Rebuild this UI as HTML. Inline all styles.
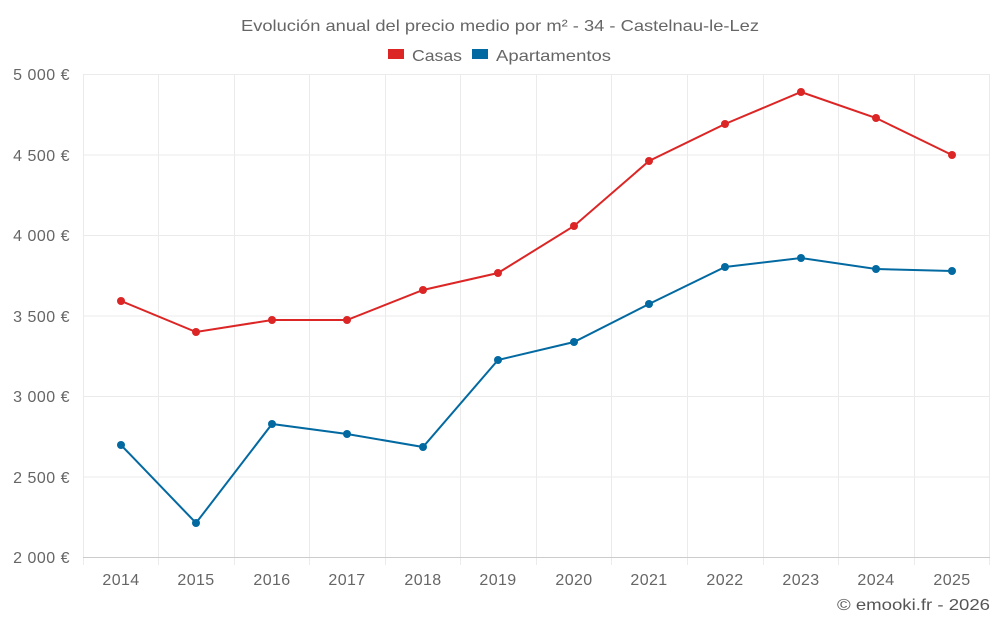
<!DOCTYPE html>
<html><head><meta charset="utf-8"><style>
body{margin:0;background:#fff;}
svg{display:block;font-family:"Liberation Sans",sans-serif;}
</style></head><body>
<svg width="1000" height="625" viewBox="0 0 1000 625">
<text x="241" y="31" textLength="518" lengthAdjust="spacingAndGlyphs" font-size="16" fill="#666">Evolución anual del precio medio por m² - 34 - Castelnau-le-Lez</text>
<rect x="388" y="49" width="16" height="10" fill="#dc2626"/>
<text x="412" y="61" textLength="50" lengthAdjust="spacingAndGlyphs" font-size="16" fill="#666">Casas</text>
<rect x="472" y="49" width="16" height="10" fill="#0369a1"/>
<text x="496" y="61" textLength="115" lengthAdjust="spacingAndGlyphs" font-size="16" fill="#666">Apartamentos</text>
<g stroke="#ebebeb" stroke-width="1">
<line x1="83" y1="74.5" x2="990" y2="74.5"/>
<line x1="83" y1="155" x2="990" y2="155"/>
<line x1="83" y1="235.5" x2="990" y2="235.5"/>
<line x1="83" y1="316" x2="990" y2="316"/>
<line x1="83" y1="396.5" x2="990" y2="396.5"/>
<line x1="83" y1="477" x2="990" y2="477"/>
<line x1="83.5" y1="74" x2="83.5" y2="565"/>
<line x1="158.5" y1="74" x2="158.5" y2="565"/>
<line x1="234.5" y1="74" x2="234.5" y2="565"/>
<line x1="309.5" y1="74" x2="309.5" y2="565"/>
<line x1="385.5" y1="74" x2="385.5" y2="565"/>
<line x1="460.5" y1="74" x2="460.5" y2="565"/>
<line x1="536.5" y1="74" x2="536.5" y2="565"/>
<line x1="611.5" y1="74" x2="611.5" y2="565"/>
<line x1="687.5" y1="74" x2="687.5" y2="565"/>
<line x1="763.5" y1="74" x2="763.5" y2="565"/>
<line x1="838.5" y1="74" x2="838.5" y2="565"/>
<line x1="914.5" y1="74" x2="914.5" y2="565"/>
<line x1="989.5" y1="74" x2="989.5" y2="565"/>
</g>
<line x1="83" y1="557.5" x2="990" y2="557.5" stroke="#ccc"/>
<g font-size="16" fill="#666" text-anchor="end" letter-spacing="0.5">
<text x="70" y="80">5 000 €</text>
<text x="70" y="161">4 500 €</text>
<text x="70" y="241">4 000 €</text>
<text x="70" y="322">3 500 €</text>
<text x="70" y="402">3 000 €</text>
<text x="70" y="483">2 500 €</text>
<text x="70" y="563">2 000 €</text>
</g>
<g font-size="16" fill="#666" text-anchor="middle" letter-spacing="0.4">
<text x="121" y="585">2014</text><text x="196" y="585">2015</text><text x="272" y="585">2016</text><text x="347" y="585">2017</text><text x="423" y="585">2018</text><text x="498" y="585">2019</text><text x="574" y="585">2020</text><text x="649" y="585">2021</text><text x="725" y="585">2022</text><text x="801" y="585">2023</text><text x="876" y="585">2024</text><text x="952" y="585">2025</text>
</g>
<text x="837" y="610" textLength="153" lengthAdjust="spacingAndGlyphs" font-size="16" fill="#555">© emooki.fr - 2026</text>
<polyline fill="none" stroke="#dc2626" stroke-width="2" points="121,301 196,332 272,320 347,320 423,290 498,273 574,226 649,161 725,124 801,92 876,118 952,155"/>
<polyline fill="none" stroke="#0369a1" stroke-width="2" points="121,445 196,523 272,424 347,434 423,447 498,360 574,342 649,304 725,267 801,258 876,269 952,271"/>
<g fill="#dc2626">
<circle cx="121" cy="301" r="4"/><circle cx="196" cy="332" r="4"/><circle cx="272" cy="320" r="4"/><circle cx="347" cy="320" r="4"/><circle cx="423" cy="290" r="4"/><circle cx="498" cy="273" r="4"/><circle cx="574" cy="226" r="4"/><circle cx="649" cy="161" r="4"/><circle cx="725" cy="124" r="4"/><circle cx="801" cy="92" r="4"/><circle cx="876" cy="118" r="4"/><circle cx="952" cy="155" r="4"/>
</g>
<g fill="#0369a1">
<circle cx="121" cy="445" r="4"/><circle cx="196" cy="523" r="4"/><circle cx="272" cy="424" r="4"/><circle cx="347" cy="434" r="4"/><circle cx="423" cy="447" r="4"/><circle cx="498" cy="360" r="4"/><circle cx="574" cy="342" r="4"/><circle cx="649" cy="304" r="4"/><circle cx="725" cy="267" r="4"/><circle cx="801" cy="258" r="4"/><circle cx="876" cy="269" r="4"/><circle cx="952" cy="271" r="4"/>
</g>
</svg>
</body></html>
